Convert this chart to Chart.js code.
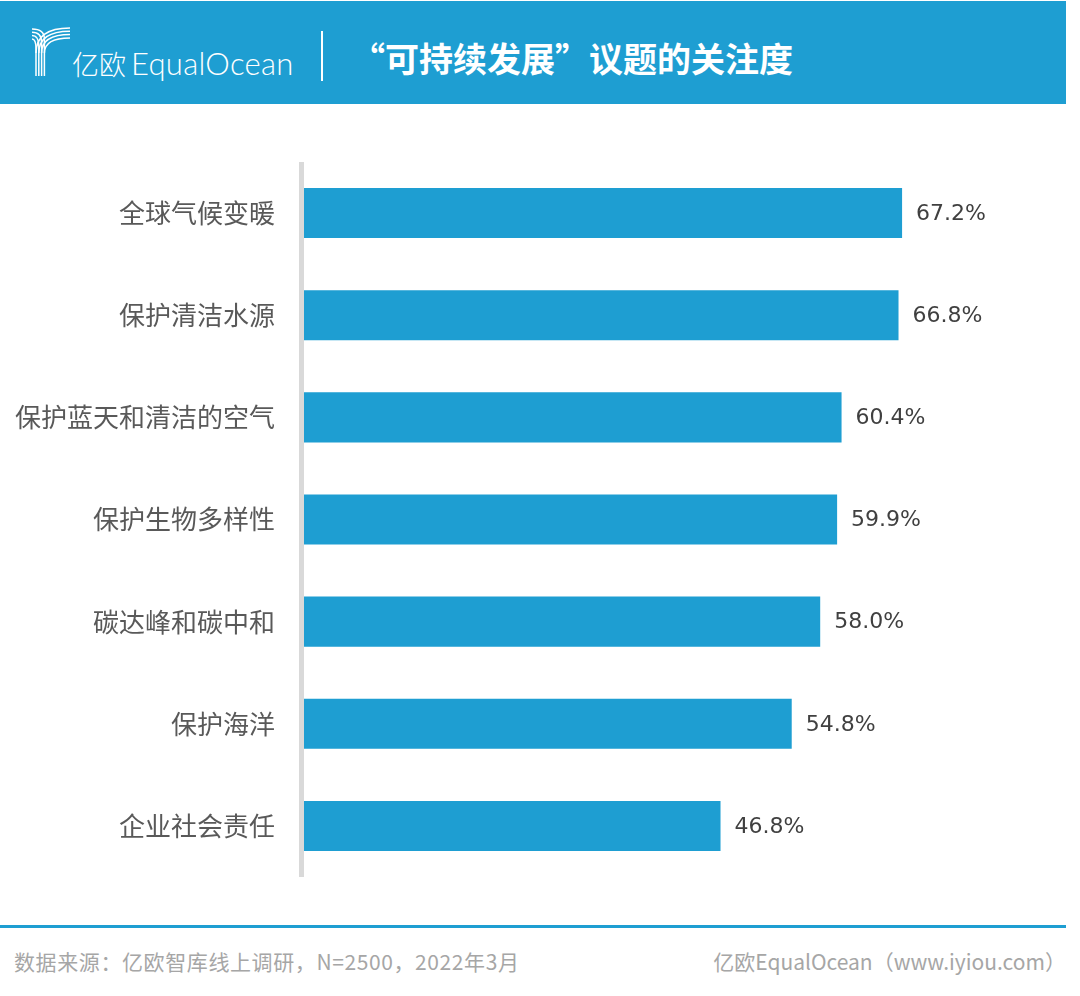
<!DOCTYPE html>
<html>
<head>
<meta charset="utf-8">
<script src="https://cdn.jsdelivr.net/npm/chart.js@4.4.1/dist/chart.umd.min.js"></script>
<style>
  html, body { margin: 0; padding: 0; background: #fff; }
  #page { position: relative; width: 1080px; height: 996px; overflow: hidden; font-family: "Noto Sans CJK SC", "Noto Sans", sans-serif; }
  #header { position: absolute; left: 0; top: 1px; width: 1066px; height: 103px; background: #1e9ed2; }
  #logo { position: absolute; left: 0; top: 0; }
  #brand { position: absolute; left: 72px; top: 40px; line-height: 44px; font-size: 27px; color: #fff; font-weight: 300; }
  #brand .en { font-family: Lato, "Open Sans", sans-serif; font-weight: 300; font-size: 31px; margin-left: 5px; letter-spacing: 0.3px; }
  #sep { position: absolute; left: 321px; top: 30px; width: 2px; height: 50px; background: #fff; }
  #title { position: absolute; left: 351px; top: 34px; line-height: 46px; font-size: 34px; font-weight: 700; color: #fff; }
  #wrap { position: absolute; left: 0; top: 150px; width: 1080px; height: 740px; }
  #footline { position: absolute; left: 0; top: 925px; width: 1066px; height: 3px; background: #1e9ed2; }
  .foot { position: absolute; top: 946px; line-height: 30px; font-size: 21px; color: #a6a6a6; }
  #src { left: 14px; letter-spacing: 0.6px; }
  #site { right: 14px; }
</style>
</head>
<body>
<div id="page">
  <div id="header">
    <svg id="logo" width="80" height="100" viewBox="0 0 80 100"></svg>
    <div id="brand">亿欧<span class="en">EqualOcean</span></div>
    <div id="sep"></div>
    <div id="title">“可持续发展”议题的关注度</div>
  </div>
  <div id="wrap"><canvas id="chart"></canvas></div>
  <div id="footline"></div>
  <div class="foot" id="src">数据来源：亿欧智库线上调研，N=2500，2022年3月</div>
  <div class="foot" id="site">亿欧EqualOcean（www.iyiou.com）</div>
</div>
<script>
// 数据
const categories = ['全球气候变暖', '保护清洁水源', '保护蓝天和清洁的空气', '保护生物多样性', '碳达峰和碳中和', '保护海洋', '企业社会责任'];
const shares = [67.2, 66.8, 60.4, 59.9, 58.0, 54.8, 46.8];

const blue = '#1e9ed2';

// logo: the stylised "Y" lines
const svg = document.getElementById('logo');
let paths = '';
for (let i = 0; i < 4; i++) {
    const x = 36 + i * 2.8;
    const yl = 28 + (3 - i) * 3.3;
    const yr = 27 + i * 3.3;
    paths += '<path d="M32 ' + yl + ' Q' + x + ' ' + yl + ' ' + x + ' ' + (yl + 10) + ' L' + x + ' 75" />';
    paths += '<path d="M' + x + ' 52 Q' + x + ' ' + yr + ' 70 ' + yr + '" />';
}
svg.innerHTML = '<g fill="none" stroke="#fff" stroke-width="1.5">' + paths + '</g>';

// gray axis bar on the left of the bars
const axisBar = {
    id: 'axisBar',
    beforeDatasetsDraw(chart) {
        const a = chart.chartArea;
        const ctx = chart.ctx;
        ctx.save();
        ctx.fillStyle = '#d9d9d9';
        ctx.fillRect(a.left - 5, a.top, 5, a.bottom - a.top);
        ctx.restore();
    }
};

// value text after each bar
const valueLabels = {
    id: 'valueLabels',
    afterDatasetsDraw(chart) {
        const ctx = chart.ctx;
        const meta = chart.getDatasetMeta(0);
        ctx.save();
        ctx.font = '22px "DejaVu Sans", sans-serif';
        ctx.fillStyle = '#404040';
        ctx.textAlign = 'left';
        ctx.textBaseline = 'middle';
        meta.data.forEach(function (bar, i) {
            ctx.fillText(shares[i].toFixed(1) + '%', bar.x + 14, bar.y + 1);
        });
        ctx.restore();
    }
};

const ctx = document.getElementById('chart').getContext('2d');
const myChart = new Chart(ctx, {
    type: 'bar',
    data: {
        labels: categories,
        datasets: [{
            data: shares,
            backgroundColor: blue,
            borderWidth: 0,
            barPercentage: 0.49,
            categoryPercentage: 1
        }]
    },
    options: {
        indexAxis: 'y',
        responsive: true,
        maintainAspectRatio: false,
        animation: false,
        layout: { padding: { top: 12, bottom: 13, left: 0, right: 64 } },
        plugins: {
            legend: { display: false },
            tooltip: { enabled: false }
        },
        scales: {
            x: {
                display: false,
                min: 0,
                max: 80
            },
            y: {
                grid: { display: false, drawTicks: false },
                border: { display: false },
                ticks: {
                    padding: 29,
                    color: '#595959',
                    font: { family: '"Noto Sans CJK SC", sans-serif', size: 26 }
                },
                afterFit: function (scale) {
                    scale.width = 304;
                    // labels sit inside the band, no extra room needed top/bottom
                    scale.paddingTop = 0;
                    scale.paddingBottom = 0;
                }
            }
        }
    },
    plugins: [axisBar, valueLabels]
});
</script>
</body>
</html>
